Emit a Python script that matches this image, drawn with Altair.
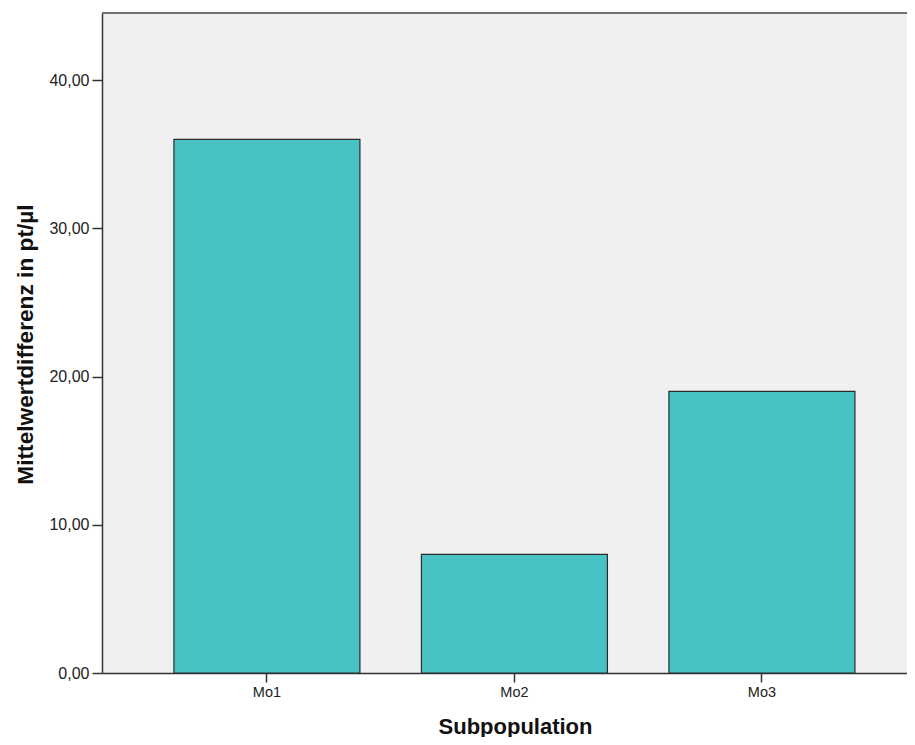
import altair as alt
import pandas as pd

categories = ["Mo1", "Mo2", "Mo3"]
values = [36.0, 8.0, 19.0]
y_ticks = [0, 10, 20, 30, 40]

df = pd.DataFrame({"Subpopulation": categories, "Wert": values})

FONT = "Liberation Sans"

bars = alt.Chart(df).mark_bar(
    color="#48C2C5", stroke="#2b2b2b", strokeWidth=1.2
).encode(
    x=alt.X(
        "Subpopulation:N",
        sort=categories,
        scale=alt.Scale(paddingInner=0.2485, paddingOuter=0.2505, align=0.58),
        axis=alt.Axis(
            title="Subpopulation",
            labelAngle=0,
            labelFont=FONT, labelFontSize=14.5, labelColor="#222",
            labelPadding=3,
            tickSize=9, tickColor="#333", tickWidth=1.5,
            domainColor="#333", domainWidth=1.5,
            titleFont=FONT, titleFontSize=22, titleFontWeight="bold",
            titleColor="#111", titleX=413, titleY=60, titleBaseline="alphabetic",
            titleAlign="center",
        ),
    ),
    y=alt.Y(
        "Wert:Q",
        scale=alt.Scale(domain=[0, 44.52], nice=False),
        axis=alt.Axis(
            title="Mittelwertdifferenz in pt/µl",
            values=y_ticks,
            labelExpr="replace(format(datum.value, '.2f'), '.', ',')",
            labelFont=FONT, labelFontSize=16, labelColor="#222",
            labelPadding=3, tickSize=10, tickColor="#333", tickWidth=1.5,
            domainColor="#333", domainWidth=1.5, grid=False,
            titleFont=FONT, titleFontSize=22.7, titleFontWeight="bold",
            titleColor="#111", titleX=-77, titleY=331, titleAngle=-90,
            titleBaseline="middle", titleAlign="center",
        ),
    ),
)

top_line = alt.Chart(df).mark_rule(color="#707070", strokeWidth=2).encode(
    x=alt.value(0), x2=alt.value(805), y=alt.value(0)
)

chart = alt.layer(bars, top_line).properties(
    width=805,
    height=660,
    background="white",
    autosize=alt.AutoSizeParams(type="none"),
    padding={"left": 94, "top": 5, "right": 0, "bottom": 64},
).configure_view(fill="#F0F0F0", stroke=None)

chart.save("out.html", embed_options={"renderer": "svg", "actions": False})
